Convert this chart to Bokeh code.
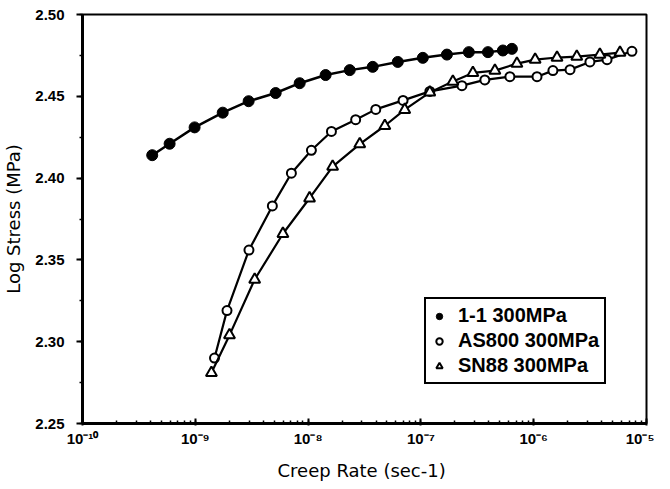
from bokeh.plotting import figure
from bokeh.models import (Range1d, LogTicker, SingleIntervalTicker, CustomJSTickFormatter,
                          Legend, LegendItem, NumeralTickFormatter)
from bokeh.embed import file_html
from bokeh.resources import INLINE

# --- data ---
rate_11 = [4.15e-10, 5.92e-10, 9.86e-10, 1.75e-9, 2.97e-9, 5.16e-9, 8.42e-9, 1.43e-8,
           2.34e-8, 3.74e-8, 6.24e-8, 1.04e-7, 1.70e-7, 2.66e-7, 3.93e-7, 5.33e-7, 6.41e-7]
stress_11 = [2.414, 2.421, 2.431, 2.440, 2.447, 2.452, 2.458, 2.463,
             2.466, 2.468, 2.471, 2.4735, 2.4755, 2.477, 2.477, 2.478, 2.479]

rate_as = [1.48e-9, 1.91e-9, 2.99e-9, 4.82e-9, 7.11e-9, 1.07e-8, 1.61e-8, 2.64e-8, 3.98e-8,
           6.95e-8, 1.20e-7, 2.31e-7, 3.69e-7, 6.15e-7, 1.07e-6, 1.48e-6, 2.10e-6, 3.15e-6,
           4.47e-6, 7.43e-6]
stress_as = [2.290, 2.319, 2.356, 2.383, 2.403, 2.417, 2.4285, 2.4357, 2.442,
             2.4475, 2.453, 2.4565, 2.460, 2.462, 2.462, 2.4657, 2.4663, 2.471,
             2.4724, 2.4775]

rate_sn = [1.39e-9, 2.01e-9, 3.36e-9, 5.98e-9, 1.03e-8, 1.65e-8, 2.87e-8, 4.79e-8, 7.19e-8,
           1.20e-7, 1.92e-7, 2.89e-7, 4.53e-7, 7.10e-7, 1.03e-6, 1.61e-6, 2.41e-6, 3.86e-6,
           5.82e-6]
stress_sn = [2.281, 2.304, 2.338, 2.366, 2.3877, 2.407, 2.4208, 2.432, 2.4418,
             2.4524, 2.459, 2.4643, 2.4657, 2.470, 2.4724, 2.4737, 2.4743, 2.4755,
             2.4767]

labels = ["1-1 300MPa", "AS800 300MPa", "SN88 300MPa"]
x_title = "Creep Rate  (sec-1)"
y_title = "Log Stress (MPa)"

p = figure(width=654, height=483, x_axis_type="log",
           x_range=Range1d(1e-10, 1e-5), y_range=Range1d(2.25, 2.50),
           output_backend="svg", toolbar_location=None,
           min_border_left=81, min_border_right=8, min_border_top=14, min_border_bottom=58)

p.grid.visible = False
p.background_fill_color = "white"
p.border_fill_color = "white"
p.outline_line_color = "black"
p.outline_line_width = 2
p.outline_line_alpha = 1

# x axis
xa = p.xaxis[0]
xa.ticker = LogTicker(mantissas=[1], desired_num_ticks=6, num_minor_ticks=10)
xa.formatter = CustomJSTickFormatter(code="""
const e = Math.round(Math.log10(tick));
const sup = {'-':'\u207b','0':'\u2070','1':'\u00b9','2':'\u00b2','3':'\u00b3','4':'\u2074',
             '5':'\u2075','6':'\u2076','7':'\u2077','8':'\u2078','9':'\u2079'};
return '10' + String(e).split('').map(c => sup[c]).join('');
""")
xa.axis_line_width = 3
xa.axis_line_color = "black"
xa.major_tick_in = 5
xa.major_tick_out = 2
xa.minor_tick_in = 3
xa.minor_tick_out = 0
xa.major_tick_line_width = 2
xa.minor_tick_line_width = 1.5
xa.major_tick_line_color = "black"
xa.minor_tick_line_color = "black"
xa.major_label_text_color = "black"
xa.major_label_text_font = "Liberation Sans"
xa.major_label_text_font_style = "bold"
xa.major_label_text_font_size = "15px"
xa.major_label_standoff = 4
xa.axis_label = x_title
xa.axis_label_text_color = "black"
xa.axis_label_text_font = "DejaVu Sans"
xa.axis_label_text_font_style = "normal"
xa.axis_label_text_font_size = "18px"
xa.axis_label_standoff = 10

# y axis
ya = p.yaxis[0]
ya.ticker = SingleIntervalTicker(interval=0.05, num_minor_ticks=2)
ya.formatter = NumeralTickFormatter(format="0.00")
ya.axis_line_width = 3
ya.axis_line_color = "black"
ya.major_tick_in = 0
ya.major_tick_out = 6
ya.minor_tick_in = 0
ya.minor_tick_out = 3
ya.major_tick_line_width = 2
ya.minor_tick_line_width = 1.5
ya.major_tick_line_color = "black"
ya.minor_tick_line_color = "black"
ya.major_label_text_color = "black"
ya.major_label_text_font = "Liberation Sans"
ya.major_label_text_font_style = "bold"
ya.major_label_text_font_size = "15px"
ya.major_label_standoff = 12
ya.axis_label = y_title
ya.axis_label_text_color = "black"
ya.axis_label_text_font = "DejaVu Sans"
ya.axis_label_text_font_style = "normal"
ya.axis_label_text_font_size = "18px"
ya.axis_label_standoff = 8

# series
p.line(rate_11, stress_11, line_color="black", line_width=2.5)
r1 = p.scatter(rate_11, stress_11, marker="circle", size=11, fill_color="black",
               line_color="black", line_width=1)

p.line(rate_as, stress_as, line_color="black", line_width=2.2)
r2 = p.scatter(rate_as, stress_as, marker="circle", size=9, fill_color="white",
               line_color="black", line_width=2)

p.line(rate_sn, stress_sn, line_color="black", line_width=2.2)
r3 = p.scatter(rate_sn, stress_sn, marker="triangle", size=11, fill_color="white",
               line_color="black", line_width=2)

legend = Legend(items=[LegendItem(label=labels[0], renderers=[r1]),
                       LegendItem(label=labels[1], renderers=[r2]),
                       LegendItem(label=labels[2], renderers=[r3])],
                location=(342, 39))
legend.border_line_color = "black"
legend.border_line_width = 2
legend.border_line_alpha = 1
legend.background_fill_color = "white"
legend.background_fill_alpha = 1
legend.label_text_color = "black"
legend.label_text_font = "Liberation Sans"
legend.label_text_font_style = "bold"
legend.label_text_font_size = "20px"
legend.glyph_width = 16
legend.glyph_height = 20
legend.label_height = 20
legend.label_standoff = 11
legend.spacing = 2
legend.padding = 5
legend.margin = 0
p.add_layout(legend, "center")

open("out.html", "w").write(file_html(p, INLINE))
